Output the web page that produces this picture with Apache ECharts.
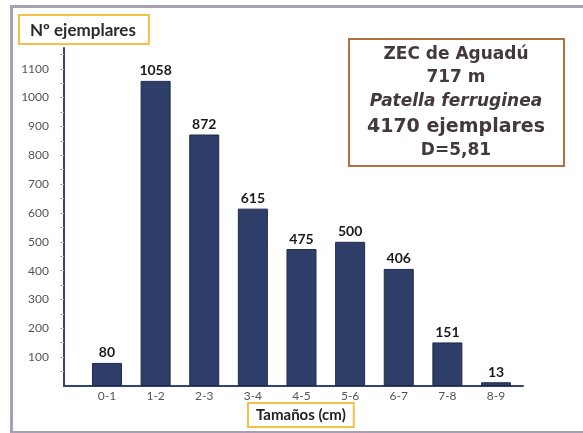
<!DOCTYPE html>
<html>
<head>
<meta charset="utf-8">
<script src="https://cdn.jsdelivr.net/npm/echarts@6/dist/echarts.min.js"></script>
<style>html,body{margin:0;padding:0;background:#fff;}#c{width:583px;height:433px;}</style>
</head>
<body>
<div id="c"></div>
<script>
const categories = ['0-1','1-2','2-3','3-4','4-5','5-6','6-7','7-8','8-9'];
const counts = [80, 1058, 872, 615, 475, 500, 406, 151, 13];
const yTickLabels = [100,200,300,400,500,600,700,800,900,1000,1100];
const yMinorTicks = [50,100,150,200,250,300,350,400,450,500,550,600,650,700,750,800,850,900,950,1000,1050,1100,1150];
const infoLines = ['ZEC de Aguadú','717 m','Patella ferruginea','4170 ejemplares','D=5,81'];
const yAxisTitle = 'Nº ejemplares';
const xAxisTitle = 'Tamaños (cm)';

const chart = echarts.init(document.getElementById('c'), null, {renderer:'canvas'});
const font = 'Lato, "Open Sans", sans-serif';
const infoFont = '"DejaVu Sans", sans-serif';
const lineY = [55, 78, 102, 127, 151];

const option = {
  backgroundColor: '#ffffff',
  animation: false,
  grid: { left: 64, right: 60, top: 48, bottom: 47 },
  xAxis: {
    type: 'value',
    min: -0.884, max: 8.555,
    splitLine: { show: false },
    axisLine: { show: true, onZero: false, lineStyle: { color: '#34427a', width: 2 } },
    axisTick: { show: false },
    axisLabel: {
      customValues: categories.map((c, i) => i),
      formatter: v => categories[Math.round(v)],
      color: '#555', fontSize: 12, fontFamily: font, margin: 4
    }
  },
  yAxis: {
    type: 'value',
    min: 0, max: 1172,
    splitLine: { show: false },
    axisLine: { show: true, onZero: false, lineStyle: { color: '#34427a', width: 2 } },
    axisTick: { show: true, customValues: yMinorTicks, length: 4, lineStyle: { color: '#a9b6d0', width: 1 } },
    axisLabel: {
      customValues: yTickLabels,
      formatter: v => String(v),
      color: '#555', fontSize: 12, fontFamily: font, margin: 15
    }
  },
  series: [{
    type: 'bar',
    barWidth: 30,
    data: counts.map((v, i) => [i, v]),
    itemStyle: { color: '#2f3d69', borderColor: '#1f2a4e', borderWidth: 1 },
    label: {
      show: true, position: 'top', distance: 3,
      color: '#1a1a1a', fontSize: 14, fontWeight: 'bold', fontFamily: font,
      formatter: p => String(p.value[1])
    }
  }],
  graphic: [
    { type: 'rect', left: 9, top: 4, z: -1,
      shape: { width: 590, height: 426 },
      style: { fill: 'none', stroke: '#ab9fb3', lineWidth: 3 } },
    { type: 'text', left: 18, top: 14,
      style: { text: yAxisTitle, fontSize: 17, fontFamily: font, fill: '#2a2a2a', fontWeight: 'bold',
               borderColor: '#f3c04a', borderWidth: 2, padding: [6, 12, 4, 10], backgroundColor: '#fff' } },
    { type: 'text', left: 247, top: 402,
      style: { text: xAxisTitle, fontSize: 15, fontFamily: font, fill: '#222', fontWeight: 'bold',
               borderColor: '#f3c04a', borderWidth: 2, padding: [4, 7, 3, 7], backgroundColor: '#fff' } },
    { type: 'rect', left: 348, top: 38,
      shape: { width: 215, height: 127 },
      style: { fill: '#fff', stroke: '#b0703f', lineWidth: 2 } }
  ].concat(infoLines.map((t, i) => ({
    type: 'text', x: 456, y: lineY[i],
    style: {
      text: t, align: 'center', verticalAlign: 'middle',
      fontFamily: infoFont, fontSize: i === 3 ? 19 : 17,
      fontStyle: i === 2 ? 'italic' : 'normal',
      fontWeight: 'bold',
      fill: '#43383a'
    }
  })))
};
chart.setOption(option);
</script>
</body>
</html>
